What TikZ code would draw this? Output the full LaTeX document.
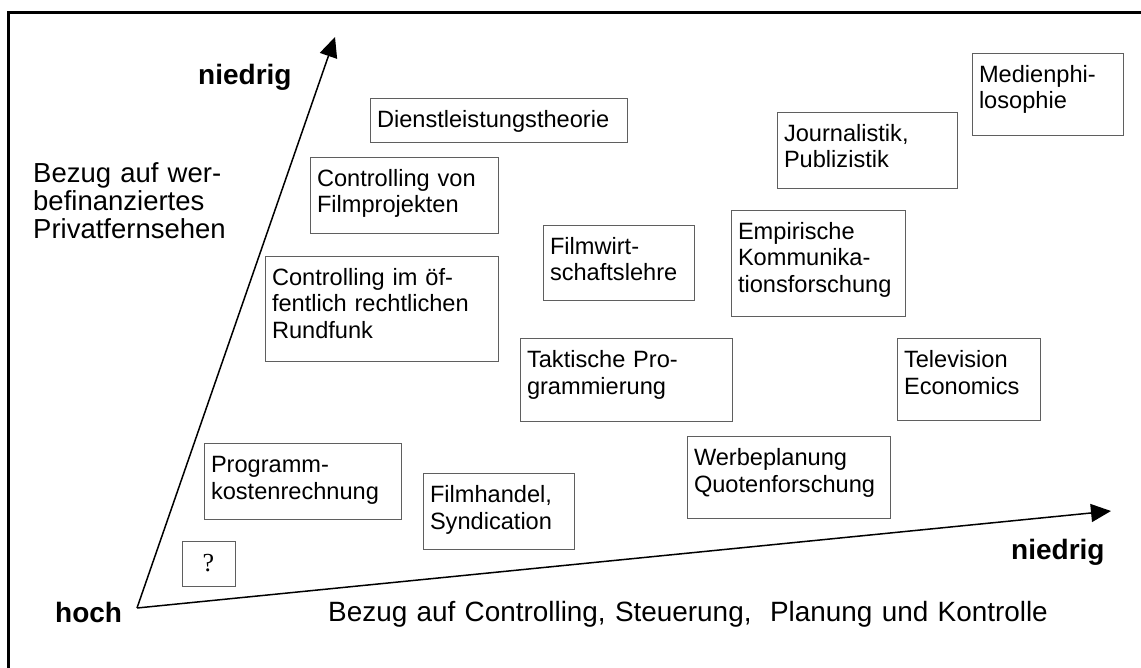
\documentclass[tikz,border=0pt]{standalone}
\usepackage{fontspec}
\setmainfont{Liberation Sans}
\newfontfamily\serifschrift{Liberation Serif}
\usepackage{tikz}
\usetikzlibrary{arrows.meta}
\usepackage{xcolor}
\definecolor{rahmengrau}{RGB}{95,95,95}

\begin{document}
\begin{tikzpicture}[x = 1pt, y = -1pt,
        feld/.style = {draw = rahmengrau, line width = 1pt, anchor = north west,
            inner xsep = 6.5pt, inner ysep = 0pt, text height = 29pt, align = left,
            font = \fontsize{23.6}{26.5}\selectfont},
        achse/.style = {line width = 1.5pt, -{Triangle[length=20pt, width=18pt]}},
        gross/.style = {anchor = base west, align = left, text width = 230pt,
            inner sep = 0pt, font = \fontsize{27.5}{28}\selectfont},
        fett/.style = {anchor = base west, inner sep = 0pt,
            font = \fontsize{28}{30}\selectfont\bfseries}]
        \useasboundingbox (0,0) rectangle (1141,668);
        \draw[line width = 3pt] (8,13) rectangle (1160,690);
        % Achsen
        \coordinate (ursprung) at (137,608);
        \coordinate (oben) at (335,37);
        \coordinate (rechts) at (1111,511);
        \draw[achse] (ursprung) -- (oben);
        \draw[achse] (ursprung) -- (rechts);
        \node[fett] (obenlabel) at (198,85) {niedrig};
        \node[fett] (hoch) at (55,622) {hoch};
        \node[fett] (rechtslabel) at (1011,559) {niedrig};
        \node[gross] (privat) at (33,183) {Bezug auf wer-\\befinanziertes\\Privatfernsehen};
        \node[gross, text width = 760pt, font = \fontsize{27.9}{28}\selectfont] (controlling) at (328,621)
            {Bezug auf Controlling, Steuerung,\ \ Planung und Kontrolle};
        % Felder
        \node[feld, text width = 244pt, text depth = 15pt] (dienst) at (370,98) {Dienstleistungstheorie};
        \node[feld, text width = 175pt, text depth = 47pt] (filmprojekte) at (310,157) {Controlling von\\Filmprojekten};
        \node[feld, text width = 220pt, text depth = 76pt] (rundfunk) at (265,256) {Controlling im öf-\\fentlich rechtlichen\\Rundfunk};
        \node[feld, text width = 138pt, text depth = 46pt] (filmwirtschaft) at (543,225) {Filmwirt-\\schaftslehre};
        \node[feld, text width = 199pt, text depth = 54pt] (taktik) at (520,338) {Taktische Pro-\\grammierung};
        \node[feld, text width = 138pt, text depth = 47pt] (filmhandel) at (423,473) {Filmhandel,\\Syndication};
        \node[feld, text width = 190pt, text depth = 53pt] (werbung) at (687,436) {Werbeplanung\\Quotenforschung};
        \node[feld, text width = 184pt, text depth = 47pt] (programmkosten) at (204,443) {Programm-\\kostenrechnung};
        \node[feld, text width = 138pt, text depth = 53pt] (philosophie) at (972,53) {Medienphi-\\losophie};
        \node[feld, text width = 167pt, text depth = 47pt] (journalistik) at (777,112) {Journalistik,\\Publizistik};
        \node[feld, text width = 161pt, text depth = 77pt] (empirisch) at (731,210) {Empirische\\Kommunika-\\tionsforschung};
        \node[feld, text width = 130pt, text depth = 53pt] (television) at (897,338) {Television\\Economics};
        \node[draw = rahmengrau, line width = 1pt, minimum width = 53pt, minimum height = 45pt,
            font = \serifschrift\fontsize{26}{28}\selectfont] (frage) at (208.5,563.5) {?};
\end{tikzpicture}
\end{document}
